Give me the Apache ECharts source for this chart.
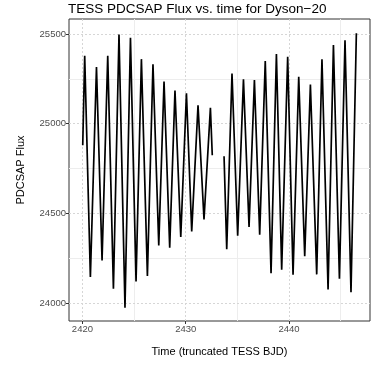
<!DOCTYPE html>
<html>
<head>
<meta charset="utf-8">
<script src="https://cdn.jsdelivr.net/npm/echarts@6/dist/echarts.min.js"></script>
<style>
  html, body { margin: 0; padding: 0; background: #fff; }
  #main { width: 374px; height: 374px; }
</style>
</head>
<body>
<div id="main"></div>
<script>
// values (peaks and troughs of each cycle)
var seg1Time = [2420.03, 2420.22, 2420.77, 2421.36, 2421.90, 2422.45, 2423.00, 2423.54, 2424.12, 2424.65,
  2425.19, 2425.71, 2426.29, 2426.83, 2427.39, 2427.90, 2428.45, 2428.96, 2429.52, 2430.07,
  2430.58, 2431.19, 2431.77, 2432.39, 2432.57];
var seg1Flux = [24880, 25379, 24144, 25316, 24237, 25379, 24079, 25498, 23973, 25479,
  24120, 25360, 24150, 25331, 24321, 25235, 24308, 25185, 24368, 25170,
  24399, 25103, 24465, 25088, 24824];
var seg2Time = [2433.71, 2433.97, 2434.48, 2435.03, 2435.59, 2436.13, 2436.65, 2437.16, 2437.70, 2438.26,
  2438.78, 2439.29, 2439.87, 2440.39, 2440.94, 2441.52, 2442.07, 2442.68, 2443.19, 2443.78,
  2444.30, 2444.88, 2445.42, 2446.00, 2446.52];
var seg2Flux = [24818, 24299, 25280, 24375, 25247, 24423, 25243, 24380, 25349, 24166,
  25388, 24185, 25373, 24157, 25261, 24260, 25219, 24159, 25359, 24075,
  25439, 24135, 25466, 24060, 25504];

var xTicks = [2420, 2430, 2440];
var xMinor = [2425, 2435, 2445];
var yTicks = [24000, 24500, 25000, 25500];
var yMinor = [24250, 24750, 25250];

var font = 'Liberation Sans, Arial, sans-serif';

function pairs(t, f) {
  return t.map(function (v, i) { return [v, f[i]]; });
}

// grid lines (major dotted, minor faint)
var gridLines = [];
xMinor.forEach(function (v) { gridLines.push({ xAxis: v, lineStyle: { color: '#ededed', width: 1, type: 'solid' } }); });
yMinor.forEach(function (v) { gridLines.push({ yAxis: v, lineStyle: { color: '#ededed', width: 1, type: 'solid' } }); });
xTicks.forEach(function (v) { gridLines.push({ xAxis: v, lineStyle: { color: '#d6d6d6', width: 1, type: [2, 2] } }); });
yTicks.forEach(function (v) { gridLines.push({ yAxis: v, lineStyle: { color: '#d6d6d6', width: 1, type: [2, 2] } }); });

var chart = echarts.init(document.getElementById('main'));

var option = {
  animation: false,
  backgroundColor: '#fff',
  title: {
    text: 'TESS PDCSAP Flux vs. time for Dyson\u221220',
    left: 68,
    top: 2,
    padding: 0,
    textStyle: { fontFamily: font, fontSize: 13.5, fontWeight: 'normal', color: '#000' }
  },
  grid: {
    left: 69, right: 4, top: 19, bottom: 53,
    show: true, borderColor: '#333', borderWidth: 1, backgroundColor: 'transparent'
  },
  xAxis: {
    type: 'value',
    min: 2418.7,
    max: 2447.84,
    name: 'Time (truncated TESS BJD)',
    nameLocation: 'middle',
    nameGap: 25,
    nameTextStyle: { fontFamily: font, fontSize: 11, color: '#000' },
    axisLine: { show: false },
    axisTick: { show: true, length: 3, lineStyle: { color: '#333' }, customValues: xTicks },
    axisLabel: {
      fontFamily: font, fontSize: 9.5, color: '#4d4d4d', margin: 3, customValues: xTicks,
      formatter: function (v) { return String(v); }
    },
    splitLine: { show: false }
  },
  yAxis: {
    type: 'value',
    min: 23899,
    max: 25584,
    name: 'PDCSAP Flux',
    nameLocation: 'middle',
    nameGap: 43,
    nameTextStyle: { fontFamily: font, fontSize: 11, color: '#000' },
    axisLine: { show: false },
    axisTick: { show: true, length: 3, lineStyle: { color: '#333' }, customValues: yTicks },
    axisLabel: {
      fontFamily: font, fontSize: 9.5, color: '#4d4d4d', margin: 3, customValues: yTicks,
      formatter: function (v) { return String(v); }
    },
    splitLine: { show: false }
  },
  series: [
    {
      type: 'line',
      data: [],
      silent: true,
      z: 1,
      markLine: {
        silent: true,
        z: 1,
        symbol: 'none',
        label: { show: false },
        data: gridLines
      }
    },
    {
      type: 'line',
      data: pairs(seg1Time, seg1Flux),
      showSymbol: false,
      z: 3,
      lineStyle: { color: '#000', width: 1.7 }
    },
    {
      type: 'line',
      data: pairs(seg2Time, seg2Flux),
      showSymbol: false,
      z: 3,
      lineStyle: { color: '#000', width: 1.7 }
    }
  ]
};

chart.setOption(option);
</script>
</body>
</html>
